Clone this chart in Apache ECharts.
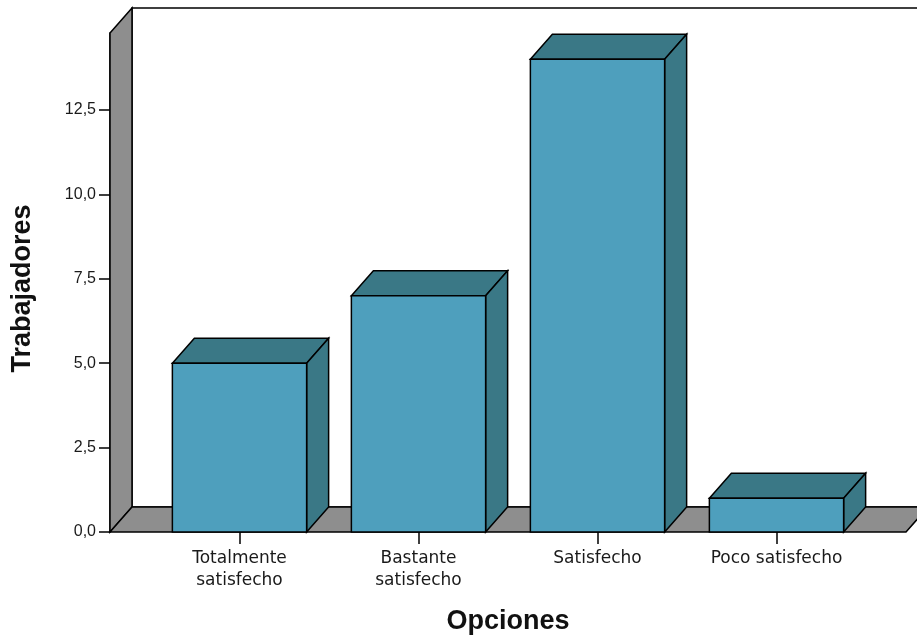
<!DOCTYPE html>
<html>
<head>
<meta charset="utf-8">
<script src="https://cdn.jsdelivr.net/npm/echarts@6/dist/echarts.min.js"></script>
<style>
  html, body { margin: 0; padding: 0; background: #fff; }
  #chart { width: 917px; height: 635px; }
</style>
</head>
<body>
<div id="chart"></div>
<script>
// Survey answers and number of workers per answer
const categories = ['Totalmente\nsatisfecho', 'Bastante\nsatisfecho', 'Satisfecho', 'Poco satisfecho'];
const workers = [5, 7, 14, 1];
const yTicks = [0, 2.5, 5, 7.5, 10, 12.5];
const yMax = 14.78;

// 3D look: depth offset of bars and walls, in pixels
const DX = 22, DY = -25;
const FLOOR_PAD = 40;
const FRONT = '#4e9fbd', SHADE = '#3a7886', WALL = '#8e8e8e', EDGE = '#000';
const EDGE_W = 1.5;

const chart = echarts.init(document.getElementById('chart'), null, { renderer: 'canvas' });

function poly(points, fill) {
  return { type: 'polygon', shape: { points }, style: { fill, stroke: EDGE, lineWidth: EDGE_W, lineJoin: 'miter' } };
}

function renderFrame(params, api) {
  const cs = params.coordSys;
  const left = cs.x - FLOOR_PAD, right = cs.x + cs.width + FLOOR_PAD;
  const top = cs.y, bottom = cs.y + cs.height;
  return {
    type: 'group',
    children: [
      // back wall
      poly([[left + DX, top + DY], [right + DX + 40, top + DY], [right + DX + 40, bottom + DY], [left + DX, bottom + DY]], '#fff'),
      // left side wall
      poly([[left, top], [left + DX, top + DY], [left + DX, bottom + DY], [left, bottom]], WALL),
      // floor
      poly([[left, bottom], [left + DX, bottom + DY], [right + DX, bottom + DY], [right, bottom]], WALL)
    ]
  };
}

function renderBar(params, api) {
  const i = api.value(0), v = api.value(1);
  const t = api.coord([i, v]);
  const b = api.coord([i, 0]);
  const w = api.size([1, 0])[0] * 0.75;
  const x0 = t[0] - w / 2, x1 = t[0] + w / 2;
  const y0 = b[1], y1 = t[1];
  return {
    type: 'group',
    children: [
      poly([[x0, y1], [x0 + DX, y1 + DY], [x1 + DX, y1 + DY], [x1, y1]], SHADE),
      poly([[x1, y1], [x1 + DX, y1 + DY], [x1 + DX, y0 + DY], [x1, y0]], SHADE),
      poly([[x0, y1], [x1, y1], [x1, y0], [x0, y0]], FRONT)
    ]
  };
}

chart.setOption({
  animation: false,
  backgroundColor: '#fff',
  grid: { left: 150, right: 51, top: 33, bottom: 103, containLabel: false, outerBoundsMode: 'none' },
  xAxis: {
    type: 'category',
    data: categories,
    axisLine: { show: false },
    axisTick: { show: true, alignWithLabel: true, length: 12, lineStyle: { color: EDGE, width: 1.5 } },
    axisLabel: {
      margin: 16, fontFamily: 'DejaVu Sans', fontSize: 17, lineHeight: 22, color: '#1a1a1a'
    },
    name: 'Opciones',
    nameLocation: 'middle',
    nameGap: 76,
    nameTextStyle: { fontFamily: 'Liberation Sans', fontWeight: 'bold', fontSize: 27, color: '#111' }
  },
  yAxis: {
    type: 'value',
    min: 0,
    max: yMax,
    offset: FLOOR_PAD,
    axisLine: { show: true, lineStyle: { color: EDGE, width: EDGE_W } },
    axisTick: { show: true, length: 11, customValues: yTicks, lineStyle: { color: EDGE, width: 1.5 } },
    axisLabel: {
      customValues: yTicks,
      margin: 14,
      fontFamily: "'Liberation Sans Narrow', 'Liberation Sans', sans-serif",
      fontSize: 16,
      color: '#1a1a1a',
      formatter: v => v.toFixed(1).replace('.', ',')
    },
    splitLine: { show: false },
    name: 'Trabajadores',
    nameLocation: 'middle',
    nameGap: 74,
    nameTextStyle: { fontFamily: 'Liberation Sans', fontWeight: 'bold', fontSize: 27, color: '#111', padding: [0, 12, 0, 0] }
  },
  series: [
    {
      type: 'custom',
      renderItem: renderFrame,
      data: [[0, 0]],
      clip: false,
      silent: true,
      z: 1
    },
    {
      type: 'custom',
      renderItem: renderBar,
      data: workers.map((v, i) => [i, v]),
      encode: { x: 0, y: 1 },
      clip: false,
      z: 2
    }
  ]
});
</script>
</body>
</html>
